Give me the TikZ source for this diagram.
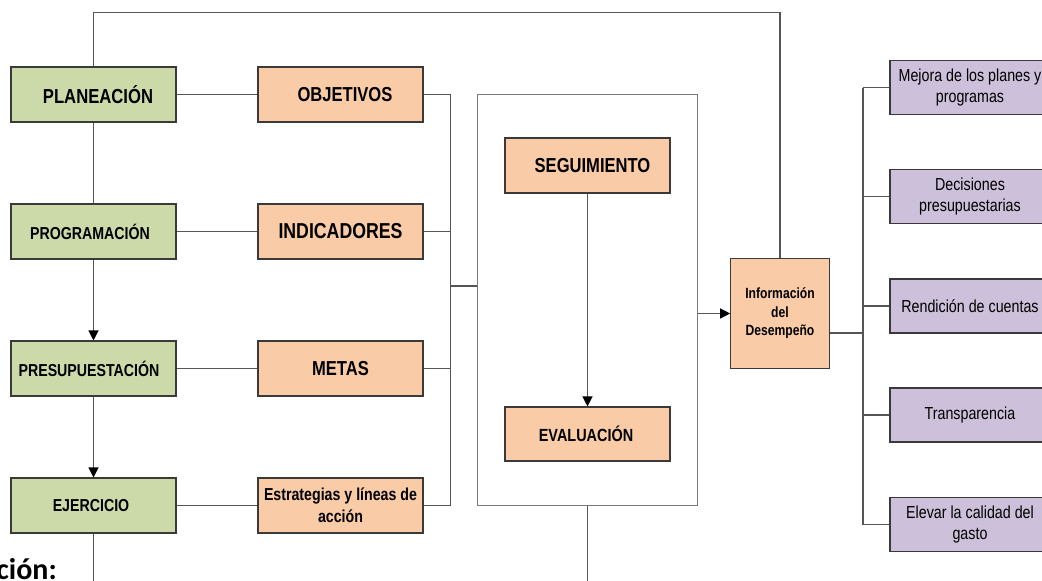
\documentclass[tikz,border=0pt]{standalone}
\usepackage{fontspec}
\setmainfont{Liberation Sans}
\newfontfamily\nar[FakeStretch=0.82]{Liberation Sans}
\newfontfamily\calib{Carlito}
\usetikzlibrary{arrows.meta}
\definecolor{gfill}{HTML}{CCDAA9}
\definecolor{ofill}{HTML}{F9CBA7}
\definecolor{pfill}{HTML}{CCC0DA}
\definecolor{bord}{HTML}{3A3A3A}
\definecolor{lin}{HTML}{555555}
\definecolor{bigb}{HTML}{7A7A7A}
\tikzset{
  gbox/.style={draw=bord, fill=gfill, line width=1.1pt, minimum width=165pt, minimum height=55pt, inner sep=0pt, align=center, font=\nar\bfseries\fontsize{17.3}{21}\selectfont},
  obox/.style={draw=bord, fill=ofill, line width=1.1pt, minimum width=165pt, minimum height=55pt, inner sep=0pt, align=center, font=\nar\bfseries\fontsize{20.2}{22}\selectfont},
  pbox/.style={draw=bord, fill=pfill, line width=1.1pt, minimum width=160pt, minimum height=54pt, inner sep=0pt, align=center, font=\nar\fontsize{17.4}{21}\selectfont},
  conn/.style={draw=lin, line width=1.2pt},
  arr/.style={conn, -{Triangle[length=10pt,width=10pt,color=black]}}
}
\begin{document}
\begin{tikzpicture}[x=1pt,y=-1pt]
\useasboundingbox (0,0) rectangle (1042,581);
\clip (0,0) rectangle (1042,581);
% green column
\node[gbox, font=\nar\bfseries\fontsize{20.3}{22}\selectfont] (plan) at (93.5,94.5) {\hspace*{9pt}PLANEACIÓN};
\node[gbox] (prog) at (93.5,231.5) {\hspace*{-7pt}PROGRAMACIÓN};
\node[gbox] (presu) at (93.5,368.5) {\hspace*{-9pt}PRESUPUESTACIÓN};
\node[gbox] (ejer) at (93.5,505.5) {\hspace*{-5pt}EJERCICIO};
% orange column
\node[obox] (obj) at (340.5,94.5) {\hspace*{9pt}OBJETIVOS};
\node[obox, font=\nar\bfseries\fontsize{21.6}{22}\selectfont] (ind) at (340.5,231.5) {INDICADORES};
\node[obox] (met) at (340.5,368.5) {METAS};
\node[obox, font=\nar\bfseries\fontsize{17.3}{22}\selectfont] (estr) at (340.5,505.5) {Estrategias y líneas de\\acción};
% monitoring box
\node[draw=bigb, line width=1.1pt, minimum width=220pt, minimum height=411pt, inner sep=0pt] (mon) at (587.7,299.7) {};
\node[obox] (seg) at (587.5,165.5) {\hspace*{10pt}SEGUIMIENTO};
\node[obox, font=\nar\bfseries\fontsize{17.6}{22}\selectfont, minimum height=54pt] (eval) at (587.5,434) {\hspace*{-3pt}EVALUACIÓN};
% info
\node[obox, minimum width=98.5pt, minimum height=109.5pt, font=\nar\bfseries\fontsize{14.8}{18.5}\selectfont] (info) at (780,313.5) {Información\\del\\Desempeño};
% purple
\node[pbox] (p1) at (970,87.5) {Mejora de los planes y\\programas};
\node[pbox] (p2) at (970,196.5) {Decisiones\\presupuestarias};
\node[pbox] (p3) at (970,306) {Rendición de cuentas};
\node[pbox] (p4) at (970,415) {Transparencia};
\node[pbox] (p5) at (970,524.5) {Elevar la calidad del\\gasto};
% free-end coordinates
\coordinate (tl) at (93.5,12.5);
\coordinate (tr) at (780,12.5);
\coordinate (ejb) at (93.5,585);
\coordinate (monb) at (587.7,585);
\coordinate (bt) at (450.5,94.5);
\coordinate (bb) at (450.5,505.5);
\coordinate (bm) at (450.5,286);
\coordinate (rb) at (863,333);
\coordinate (rt) at (863,87.5);
\coordinate (rbt) at (863,524.5);
% connectors
\draw[conn] (plan.north) -- (tl) -- (tr) -- (info.north);
\draw[conn] (plan.south) -- (prog.north);
\draw[arr] (prog.south) -- (presu.north);
\draw[arr] (presu.south) -- (ejer.north);
\draw[conn] (ejer.south) -- (ejb);
\draw[conn] (plan.east) -- (obj.west);
\draw[conn] (prog.east) -- (ind.west);
\draw[conn] (presu.east) -- (met.west);
\draw[conn] (ejer.east) -- (estr.west);
\draw[conn] (obj.east) -- (bt);
\draw[conn] (ind.east) -- (ind.east -| bt);
\draw[conn] (met.east) -- (met.east -| bt);
\draw[conn] (estr.east) -- (bb);
\draw[conn] (bt) -- (bb);
\draw[conn] (bm) -- (bm -| mon.west);
\draw[arr] (seg.south) -- (eval.north);
\draw[conn] (mon.south) -- (monb);
\draw[arr] (mon.east |- info.west) -- (info.west);
\draw[conn] (info.east |- rb) -- (rb);
\draw[conn] (rt) -- (rbt);
\draw[conn] (rt) -- (p1.west);
\draw[conn] (p2.west -| rb) -- (p2.west);
\draw[conn] (p3.west -| rb) -- (p3.west);
\draw[conn] (p4.west -| rb) -- (p4.west);
\draw[conn] (rbt) -- (p5.west);
% cut-off caption text
\node[anchor=base east, inner sep=0pt, font=\calib\bfseries\fontsize{30}{30}\selectfont] (cap) at (57,579) {ción:};
\end{tikzpicture}
\end{document}
